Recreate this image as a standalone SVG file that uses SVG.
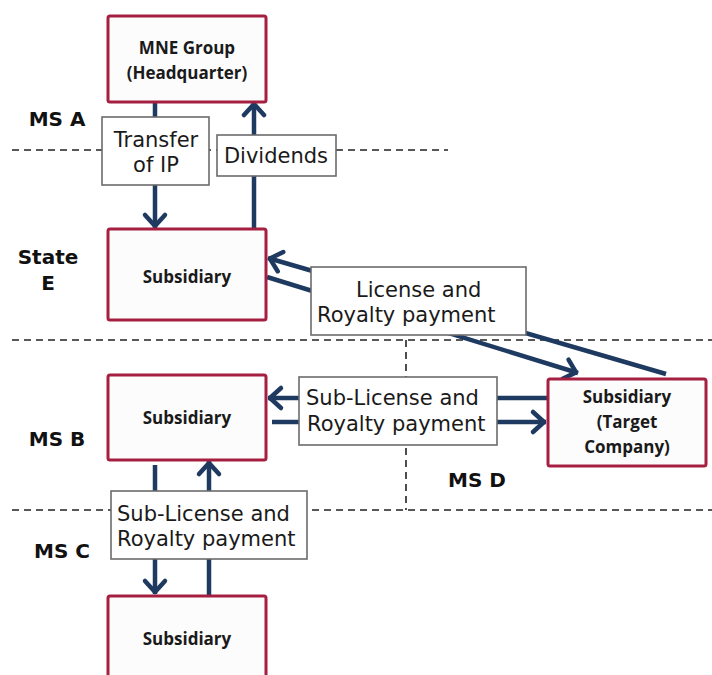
<svg xmlns="http://www.w3.org/2000/svg" width="712" height="675" viewBox="0 0 712 675">
<style>
.bg{fill:#ffffff}
.node{fill:#fcfcfc;stroke:#a51f40;stroke-width:3}
.nt{font-family:"Open Sans","DejaVu Sans",sans-serif;font-weight:700;font-size:17px;fill:#1a1a1a;text-anchor:middle}
.lbox{fill:#ffffff;stroke:#6b6b6b;stroke-width:1.6}
.lt{font-family:"DejaVu Sans",Verdana,sans-serif;font-size:21px;fill:#1a1a1a}
.rl{font-family:"DejaVu Sans",Verdana,sans-serif;font-weight:700;font-size:20px;fill:#111;text-anchor:middle}
.dash{stroke:#222;stroke-width:1.6;stroke-dasharray:7 5;fill:none}
.c{stroke:#1f3a60;stroke-width:4.5;fill:none}
.ca{stroke:#1f3a60;stroke-width:4.5;fill:none;marker-end:url(#ah)}
</style>
<defs>
<marker id="ah" markerUnits="userSpaceOnUse" viewBox="-20 -15 25 30" refX="0" refY="0" markerWidth="25" markerHeight="30" orient="auto">
<path d="M-13,-10 L-2,0 L-13,10" fill="none" stroke="#1f3a60" stroke-width="4.5" stroke-linecap="round" stroke-linejoin="round"/>
</marker>
</defs>
<rect class="bg" x="0" y="0" width="712" height="675"/>

<g id="regions">
<line class="dash" x1="12" y1="150" x2="448" y2="150"/>
<line class="dash" x1="12" y1="340" x2="712" y2="340"/>
<line class="dash" x1="12" y1="510" x2="712" y2="510"/>
<line class="dash" x1="406" y1="340" x2="406" y2="510"/>
<text class="rl" x="57" y="126">MS A</text>
<text class="rl" x="48" y="264">State</text>
<text class="rl" x="48" y="290">E</text>
<text class="rl" x="57" y="446">MS B</text>
<text class="rl" x="62" y="558">MS C</text>
<text class="rl" x="477" y="487">MS D</text>
</g>

<g id="connectors">
<!-- HQ <-> State E -->
<line class="c" x1="155" y1="102" x2="155" y2="120"/>
<line class="ca" x1="155" y1="182" x2="155" y2="228"/>
<line class="c" x1="254" y1="229" x2="254" y2="172"/>
<line class="ca" x1="254" y1="138" x2="254" y2="102"/>
<!-- State E <-> Target -->
<line class="ca" x1="267" y1="277" x2="578" y2="373"/>
<line class="ca" x1="666" y1="374" x2="268" y2="258"/>
<!-- MS B <-> Target -->
<line class="ca" x1="299" y1="398" x2="268" y2="398"/>
<line class="c" x1="272" y1="422" x2="299" y2="422"/>
<line class="c" x1="497" y1="398" x2="547" y2="398"/>
<line class="ca" x1="497" y1="422" x2="546" y2="422"/>
<!-- MS B <-> MS C -->
<line class="c" x1="155" y1="465" x2="155" y2="493"/>
<line class="ca" x1="155" y1="557" x2="155" y2="594"/>
<line class="c" x1="209" y1="596" x2="209" y2="557"/>
<line class="ca" x1="209" y1="493" x2="209" y2="461"/>
</g>

<g id="edge-labels">
<g id="lbl-transfer">
<rect class="lbox" x="102" y="117" width="107" height="68"/>
<text class="lt" x="156" y="147" text-anchor="middle">Transfer</text>
<text class="lt" x="156" y="172" text-anchor="middle">of IP</text>
</g>
<g id="lbl-dividends">
<rect class="lbox" x="217" y="135" width="119" height="41"/>
<text class="lt" x="276" y="163" text-anchor="middle">Dividends</text>
</g>
<g id="lbl-license">
<rect class="lbox" x="311" y="267" width="215" height="68"/>
<text class="lt" x="356" y="297">License and</text>
<text class="lt" x="317" y="322">Royalty payment</text>
</g>
<g id="lbl-sublicense-bd">
<rect class="lbox" x="299" y="377" width="198" height="68"/>
<text class="lt" x="306" y="405">Sub-License and</text>
<text class="lt" x="307" y="431">Royalty payment</text>
</g>
<g id="lbl-sublicense-bc">
<rect class="lbox" x="111" y="491" width="196" height="68"/>
<text class="lt" x="117" y="521">Sub-License and</text>
<text class="lt" x="117" y="546">Royalty payment</text>
</g>
</g>

<g id="node-hq">
<rect class="node" x="108" y="16" width="158" height="86" rx="2"/>
<text class="nt" x="187" y="54">MNE Group</text>
<text class="nt" x="187" y="79">(Headquarter)</text>
</g>
<g id="node-sub-e">
<rect class="node" x="108" y="229" width="158" height="91" rx="2"/>
<text class="nt" x="187" y="283">Subsidiary</text>
</g>
<g id="node-sub-b">
<rect class="node" x="108" y="375" width="158" height="85" rx="2"/>
<text class="nt" x="187" y="424">Subsidiary</text>
</g>
<g id="node-target">
<rect class="node" x="548" y="379" width="158" height="87" rx="2"/>
<text class="nt" x="627" y="403">Subsidiary</text>
<text class="nt" x="627" y="428">(Target</text>
<text class="nt" x="627" y="453">Company)</text>
</g>
<g id="node-sub-c">
<rect class="node" x="108" y="596" width="158" height="90" rx="2"/>
<text class="nt" x="187" y="645">Subsidiary</text>
</g>
</svg>
